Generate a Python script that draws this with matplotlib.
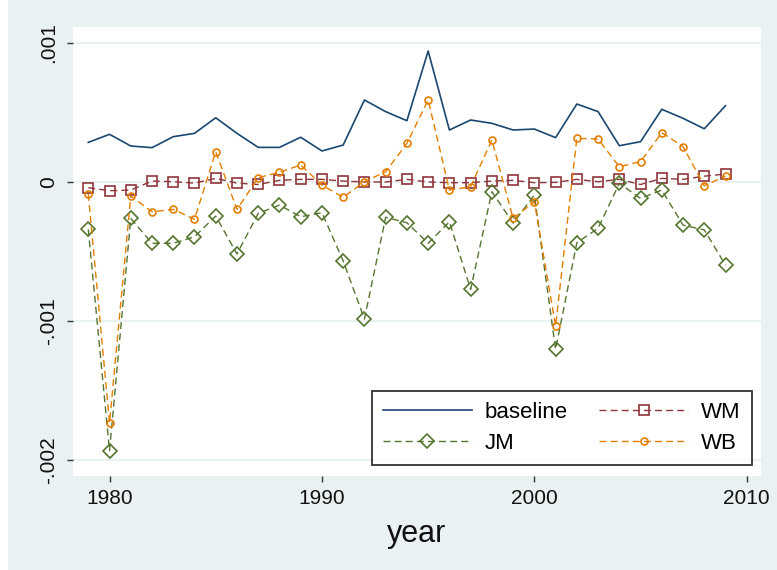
import matplotlib
matplotlib.use("Agg")
import matplotlib.pyplot as plt
from matplotlib.patches import Rectangle

plt.rcParams['font.family'] = ['Liberation Sans', 'DejaVu Sans']

years = list(range(1979, 2010))

baseline = [0.000283, 0.000341, 0.000257, 0.000245, 0.000324, 0.000348, 0.000460,
            0.000348, 0.000247, 0.000247, 0.000320, 0.000221, 0.000264, 0.000588,
            0.000504, 0.000439, 0.000940, 0.000372, 0.000444, 0.000420, 0.000372,
            0.000379, 0.000317, 0.000559, 0.000504, 0.000259, 0.000288, 0.000521,
            0.000456, 0.000381, 0.000547]

wm = [-0.000043, -0.000065, -0.000060, 0.000005, 0.000000, -0.000010, 0.000024,
      -0.000010, -0.000020, 0.000010, 0.000017, 0.000017, 0.000005, -0.000002,
      -0.000002, 0.000017, -0.000002, -0.000007, -0.000007, 0.000005, 0.000010,
      -0.000007, -0.000005, 0.000017, 0.000000, 0.000017, -0.000020, 0.000024,
      0.000017, 0.000040, 0.000055]

jm = [-0.000343, -0.001935, -0.000264, -0.000443, -0.000443, -0.000396, -0.000247,
      -0.000520, -0.000228, -0.000168, -0.000252, -0.000223, -0.000570, -0.000988,
      -0.000256, -0.000295, -0.000443, -0.000288, -0.000774, -0.000072, -0.000298,
      -0.000096, -0.001206, -0.000439, -0.000335, -0.000012, -0.000120, -0.000060,
      -0.000312, -0.000347, -0.000600]

wb = [-0.000088, -0.001734, -0.000103, -0.000216, -0.000199, -0.000270, 0.000216,
      -0.000199, 0.000029, 0.000068, 0.000120, -0.000024, -0.000112, 0.000000,
      0.000072, 0.000276, 0.000588, -0.000060, -0.000036, 0.000300, -0.000264,
      -0.000144, -0.001038, 0.000312, 0.000307, 0.000108, 0.000144, 0.000353,
      0.000252, -0.000029, 0.000041]

yticks = [0.001, 0.0, -0.001, -0.002]
ytick_labels = ['.001', '0', '-.001', '-.002']
xticks = [1980, 1990, 2000, 2010]

NAVY = '#1a476f'
MAROON = '#90353b'
FOREST = '#55752f'
ORANGE = '#e37e00'
BG = '#e9f1f3'

fig = plt.figure(figsize=(7.77, 5.70), dpi=100)
fig.patch.set_facecolor('white')
# graph region (light bluish gray) with a thin white page margin on the left
fig.add_artist(Rectangle((8/777, 0), 1 - 8/777, 1, transform=fig.transFigure,
                         facecolor=BG, edgecolor='none', zorder=0))

ax = fig.add_axes([73/777, 1 - 476/570, (761 - 73)/777, (476 - 27)/570])
ax.set_facecolor('white')

dash = (0, (5, 3))
l_base, = ax.plot(years, baseline, color=NAVY, lw=1.2, zorder=3)
l_wm, = ax.plot(years, wm, color=MAROON, lw=1.0, linestyle=dash,
                marker='s', markersize=7, markerfacecolor='none',
                markeredgecolor=MAROON, markeredgewidth=1.2, zorder=4)
l_jm, = ax.plot(years, jm, color=FOREST, lw=1.0, linestyle=dash,
                marker='D', markersize=7.5, markerfacecolor='none',
                markeredgecolor=FOREST, markeredgewidth=1.2, zorder=5)
l_wb, = ax.plot(years, wb, color=ORANGE, lw=1.0, linestyle=dash,
                marker='o', markersize=5, markerfacecolor='none',
                markeredgecolor=ORANGE, markeredgewidth=1.2, zorder=6)

ax.set_xlim(1978.28, 2010.67)
ax.set_ylim(-0.002117, 0.001113)

ax.set_yticks(yticks)
ax.set_yticklabels(ytick_labels, rotation=90, va='center')
ax.set_xticks(xticks)
ax.set_xticklabels([str(t) for t in xticks])

for s in ax.spines.values():
    s.set_visible(False)

ax.grid(axis='y', color=BG, lw=1.5, zorder=0)
ax.grid(axis='x', visible=False)
ax.tick_params(axis='both', direction='out', length=4, width=1.0,
               color='#333333', labelsize=15, labelcolor='#111111')
ax.tick_params(axis='y', pad=7)
ax.tick_params(axis='x', pad=5)

ax.set_xlabel('year', fontsize=22, color='#111111', labelpad=8)

leg = ax.legend([l_base, l_jm, l_wm, l_wb], ['baseline', 'JM', 'WM', 'WB'],
                ncol=2, loc='lower right', bbox_to_anchor=(0.987, 0.0245),
                borderaxespad=0, fontsize=16, frameon=True, fancybox=False,
                handlelength=4.0, handletextpad=0.6, columnspacing=1.4,
                borderpad=0.5, labelspacing=0.45, shadow=False)
leg.get_frame().set_edgecolor('black')
leg.get_frame().set_linewidth(1.3)
leg.set_zorder(10)

fig.savefig('out.png', dpi=100, facecolor='white')
